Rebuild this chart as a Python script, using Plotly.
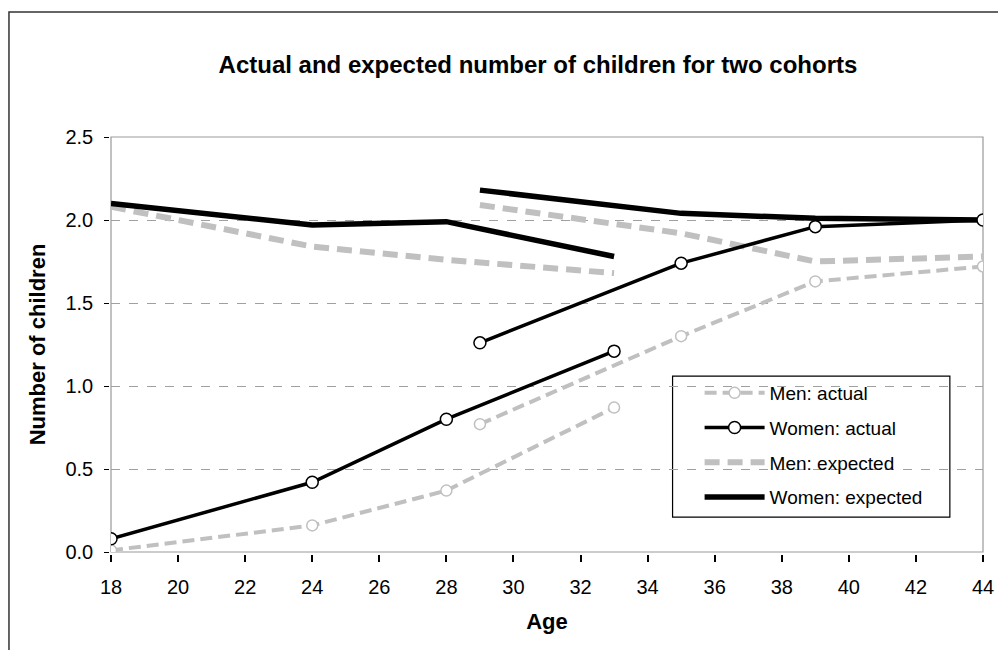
import plotly.graph_objects as go

# Data
ages_cohort1 = [18, 24, 28, 33]
ages_cohort2 = [29, 35, 39, 44]

men_actual_c1 = [0.01, 0.16, 0.37, 0.87]
men_actual_c2 = [0.77, 1.30, 1.63, 1.72]
women_actual_c1 = [0.08, 0.42, 0.80, 1.21]
women_actual_c2 = [1.26, 1.74, 1.96, 2.00]
men_expected_c1 = [2.08, 1.84, 1.76, 1.68]
men_expected_c2 = [2.09, 1.92, 1.75, 1.78]
women_expected_c1 = [2.10, 1.97, 1.99, 1.78]
women_expected_c2 = [2.18, 2.04, 2.01, 2.00]

x_ticks = list(range(18, 45, 2))
y_ticks = [0.0, 0.5, 1.0, 1.5, 2.0, 2.5]


def join(a, b):
    return list(a) + [None] + list(b)


x_all = join(ages_cohort1, ages_cohort2)
FONT = "Liberation Sans, Arial, sans-serif"
GRAY = "#c0c0c0"

fig = go.Figure()

fig.add_trace(go.Scatter(
    x=x_all, y=join(men_actual_c1, men_actual_c2), name="Men: actual",
    mode="lines+markers", line=dict(color=GRAY, width=4, dash="12px,6px"),
    marker=dict(symbol="circle", size=11, color="white", line=dict(color=GRAY, width=1.5)),
    legendgroup="a", connectgaps=False, cliponaxis=False, zorder=2,
))
fig.add_trace(go.Scatter(
    x=x_all, y=join(women_actual_c1, women_actual_c2), name="Women: actual",
    mode="lines+markers", line=dict(color="black", width=3.5),
    marker=dict(symbol="circle", size=12, color="white", line=dict(color="black", width=1.5)),
    legendgroup="b", connectgaps=False, cliponaxis=False, zorder=3,
))
fig.add_trace(go.Scatter(
    x=x_all, y=join(men_expected_c1, men_expected_c2), name="Men: expected",
    mode="lines", line=dict(color=GRAY, width=6, dash="15px,8px"),
    legendgroup="c", connectgaps=False, cliponaxis=False, zorder=0,
))
fig.add_trace(go.Scatter(
    x=x_all, y=join(women_expected_c1, women_expected_c2), name="Women: expected",
    mode="lines", line=dict(color="black", width=5.5),
    legendgroup="d", connectgaps=False, cliponaxis=False, zorder=1,
))

# plot-area border (gray top / right)
fig.add_shape(type="rect", xref="paper", yref="paper", x0=0, y0=0, x1=1, y1=1,
              line=dict(color="#999999", width=1.2), layer="below")
# outer chart border
fig.add_shape(type="rect", xref="paper", yref="paper", x0=-0.117, y0=-0.26, x1=1.03, y1=1.301,
              line=dict(color="#333333", width=1.5), layer="below")
# legend box
fig.add_shape(type="rect", xref="paper", yref="paper", x0=0.644, y0=0.084, x1=0.962, y1=0.424,
              line=dict(color="black", width=1.2), fillcolor="white", layer="between")

fig.update_layout(
    width=998, height=642,
    margin=dict(l=103, r=18, t=129, b=98),
    paper_bgcolor="white", plot_bgcolor="white",
    font=dict(family=FONT, color="black", size=19),
    title=dict(text="<b>Actual and expected number of children for two cohorts</b>",
               x=0.531, xanchor="center", y=0.912, yanchor="middle",
               font=dict(family=FONT, size=24, color="black")),
    showlegend=True,
    legend=dict(x=0.675, y=0.429, xanchor="left", yanchor="top",
                borderwidth=0, bgcolor="rgba(0,0,0,0)",
                font=dict(family=FONT, size=19, color="black"),
                tracegroupgap=7, itemwidth=60, traceorder="grouped"),
    xaxis=dict(range=[18, 44], tickvals=x_ticks, ticktext=[str(v) for v in x_ticks],
               showgrid=False, zeroline=False, showline=True, linecolor="black", linewidth=2.5,
               ticks="outside", ticklen=7, tickcolor="black", tickwidth=1.5,
               ticklabelstandoff=8,
               tickfont=dict(family=FONT, size=20, color="black"),
               title=dict(text="<b>Age</b>", font=dict(family=FONT, size=22, color="black"), standoff=17)),
    yaxis=dict(range=[0, 2.5], tickvals=y_ticks, ticktext=[f"{v:.1f}" for v in y_ticks],
               showgrid=True, gridcolor="#a0a0a0", gridwidth=1, griddash="dash",
               zeroline=False, showline=True, linecolor="black", linewidth=1.5,
               ticks="outside", ticklen=5, tickcolor="black", tickwidth=1.2,
               ticklabelstandoff=7,
               tickfont=dict(family=FONT, size=20, color="black"),
               title=dict(text="<b>Number of children</b>", font=dict(family=FONT, size=22, color="black"), standoff=14)),
)

fig.write_html("out.html")
